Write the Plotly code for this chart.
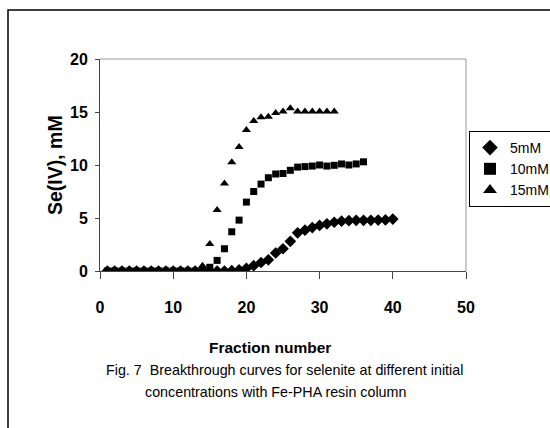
import plotly.graph_objects as go

fraction = list(range(1, 41))
se_5mM = [0]*17 + [0.03, 0.1, 0.25, 0.5, 0.8, 1.05, 1.7, 2.1, 2.8, 3.6, 3.85, 4.1, 4.3,
                   4.45, 4.6, 4.7, 4.75, 4.78, 4.78, 4.78, 4.8, 4.82, 4.9]
fraction_10 = list(range(1, 37))
se_10mM = [0]*13 + [0.1, 0.35, 1.0, 2.1, 3.7, 4.8, 6.5, 7.5, 8.2, 8.8, 9.15, 9.2, 9.5,
                    9.8, 9.85, 9.9, 10.0, 9.9, 9.97, 10.1, 10.0, 10.1, 10.3]
fraction_15 = list(range(1, 33))
se_15mM = [0]*12 + [0.1, 0.5, 2.55, 5.75, 8.25, 10.25, 11.7, 13.3, 14.15, 14.5, 14.55,
                    14.9, 15.05, 15.35, 15.05, 15.05, 15.05, 15.05, 15.05, 15.05]

x_ticks = [0, 10, 20, 30, 40, 50]
y_ticks = [0, 5, 10, 15, 20]

FONT = "Liberation Sans, Arial, sans-serif"

fig = go.Figure()
fig.add_trace(go.Scatter(x=fraction, y=se_5mM, mode="markers", name="5mM",
                         marker=dict(symbol="diamond", size=9, color="black")))
fig.add_trace(go.Scatter(x=fraction_10, y=se_10mM, mode="markers", name="10mM",
                         marker=dict(symbol="square", size=7, color="black")))
fig.add_trace(go.Scatter(x=fraction_15, y=se_15mM, mode="markers", name="15mM",
                         marker=dict(symbol="triangle-up", size=8, color="black")))

W, H = 550, 428
L, R, T, B = 100, 466, 59, 271
pw, ph = R - L, B - T

def px(xpix):
    return (xpix - L) / pw

def py(ypix):
    return (B - ypix) / ph

fig.update_layout(
    width=W, height=H,
    margin=dict(l=L, r=W - R, t=T, b=H - B, autoexpand=False),
    paper_bgcolor="white", plot_bgcolor="white",
    font=dict(family=FONT, color="black"),
    showlegend=True,
    legend=dict(x=px(469), y=py(131), xanchor="left", yanchor="top",
                bgcolor="white", bordercolor="black", borderwidth=1,
                font=dict(family=FONT, size=14, color="black"),
                itemsizing="constant", tracegroupgap=0),
    xaxis=dict(range=[0, 50], tickvals=x_ticks, ticks="outside", ticklen=7,
               tickcolor="#444", showline=True, linecolor="#444", linewidth=1,
               showgrid=False, zeroline=False, ticklabelstandoff=15,
               tickfont=dict(family=FONT, size=16, color="black", weight="bold")),
    yaxis=dict(range=[0, 20], tickvals=y_ticks, ticks="outside", ticklen=4,
               tickcolor="#444", showline=True, linecolor="#444", linewidth=1,
               showgrid=False, zeroline=False, ticklabelstandoff=4,
               tickfont=dict(family=FONT, size=16, color="black", weight="bold")),
    shapes=[
        dict(type="line", xref="paper", yref="paper", x0=0, x1=1, y0=1, y1=1,
             line=dict(color="#999", width=1)),
        dict(type="line", xref="paper", yref="paper", x0=1, x1=1, y0=0, y1=1,
             line=dict(color="#999", width=1)),
        dict(type="rect", xref="paper", yref="paper", x0=px(8), x1=px(570),
             y0=py(450), y1=py(10), line=dict(color="black", width=1.5),
             fillcolor="rgba(0,0,0,0)", layer="below"),
    ],
    annotations=[
        dict(text="<b>Se(IV), mM</b>", xref="paper", yref="paper", x=px(55), y=0.5,
             textangle=-90, showarrow=False, xanchor="center", yanchor="middle",
             font=dict(family=FONT, size=19.5, color="black")),
        dict(text="<b>Fraction number</b>", xref="paper", yref="paper", x=px(270),
             y=py(347), showarrow=False, xanchor="center", yanchor="middle",
             font=dict(family=FONT, size=15.5, color="black")),
        dict(text="Fig. 7  Breakthrough curves for selenite at different initial",
             xref="paper", yref="paper", x=px(284), y=py(370), showarrow=False,
             xanchor="center", yanchor="middle",
             font=dict(family=FONT, size=14.3, color="black")),
        dict(text="concentrations with Fe-PHA resin column",
             xref="paper", yref="paper", x=px(275), y=py(392), showarrow=False,
             xanchor="center", yanchor="middle",
             font=dict(family=FONT, size=14.3, color="black")),
    ],
)

fig.write_html("out.html")
